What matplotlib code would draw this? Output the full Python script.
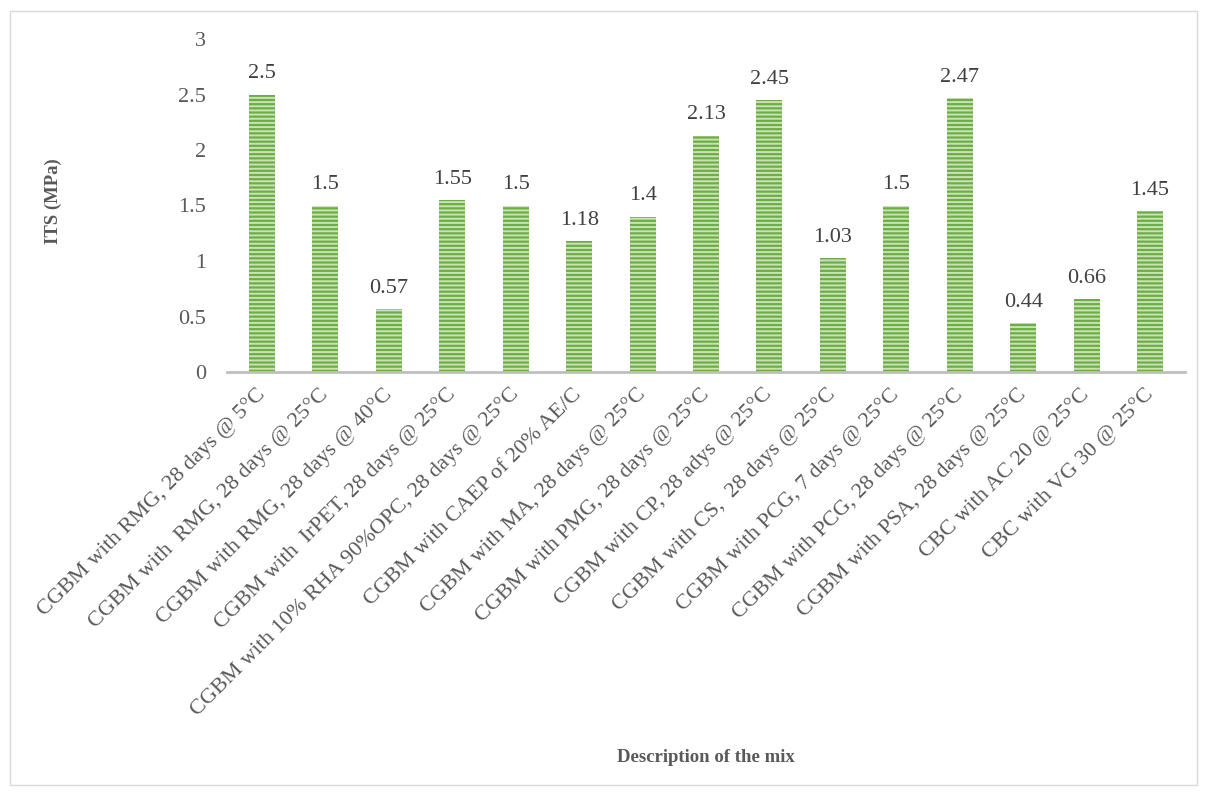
import matplotlib.pyplot as plt
import numpy as np
from matplotlib.patches import Rectangle

plt.rcParams["font.family"] = ["Liberation Serif", "DejaVu Serif"]
plt.rcParams["hatch.linewidth"] = 1.4

# ITS values for each mix
mixes = [
    "CGBM with RMG, 28 days @ 5°C",
    "CGBM with  RMG, 28 days @ 25°C",
    "CGBM with RMG, 28 days @ 40°C",
    "CGBM with  IrPET, 28 days @ 25°C",
    "CGBM with 10% RHA 90%OPC, 28 days @ 25°C",
    "CGBM with CAEP of 20% AE/C",
    "CGBM with MA, 28 days @ 25°C",
    "CGBM with PMG, 28 days @ 25°C",
    "CGBM with CP, 28 adys @ 25°C",
    "CGBM with CS,  28 days @ 25°C",
    "CGBM with PCG, 7 days @ 25°C",
    "CGBM with PCG, 28 days @ 25°C",
    "CGBM with PSA, 28 days @ 25°C",
    "CBC with AC 20 @ 25°C",
    "CBC with VG 30 @ 25°C",
]
its = [2.5, 1.5, 0.57, 1.55, 1.5, 1.18, 1.4, 2.13, 2.45, 1.03, 1.5, 2.47, 0.44, 0.66, 1.45]
value_labels = ["2.5", "1.5", "0.57", "1.55", "1.5", "1.18", "1.4", "2.13", "2.45",
                "1.03", "1.5", "2.47", "0.44", "0.66", "1.45"]

fig = plt.figure(figsize=(12.07, 7.94), dpi=100)
ax = fig.add_axes([227 / 1207, 1 - 372 / 794, (1185 - 227) / 1207, (372 - 39) / 794])

x = np.arange(len(mixes))
bars = ax.bar(x, its, width=0.41, color="#6CAE45", edgecolor="#C9E2B6",
              hatch="----", linewidth=0)

for b, lab in zip(bars, value_labels):
    ax.annotate(lab, (b.get_x() + b.get_width() / 2, b.get_height()),
                xytext=(0, 8), textcoords="offset points", ha="center", va="bottom",
                fontsize=16, color="#404040")

ax.set_xlim(-0.55, len(mixes) - 0.45)
ax.set_ylim(0, 3)
ax.set_yticks(np.arange(0, 3.01, 0.5))
ax.set_yticklabels(["0", "0.5", "1", "1.5", "2", "2.5", "3"])
ax.set_xticks(x)
ax.set_xticklabels(mixes, rotation=45, ha="right", va="center", rotation_mode="anchor")

for s in ["top", "right", "left"]:
    ax.spines[s].set_visible(False)
ax.spines["bottom"].set_color("#BFBFBF")
ax.spines["bottom"].set_linewidth(2)

ax.tick_params(axis="both", length=0, labelsize=16, labelcolor="#595959")
ax.tick_params(axis="y", pad=15)
ax.tick_params(axis="x", pad=14)

fig.text(53 / 1207, 1 - 201 / 794, "ITS (MPa)", rotation=90, ha="center", va="center",
         fontsize=13.5, fontweight="bold", color="#595959")
fig.text(706 / 1207, 1 - 757 / 794, "Description of the mix", ha="center", va="center",
         fontsize=13.5, fontweight="bold", color="#595959")

# light frame around the chart area
fig.patches.append(Rectangle((10 / 1207, 1 - 785 / 794), 1187 / 1207, 774 / 794,
                             transform=fig.transFigure, fill=False,
                             edgecolor="#D9D9D9", linewidth=1))

fig.savefig("out.png", dpi=100)
